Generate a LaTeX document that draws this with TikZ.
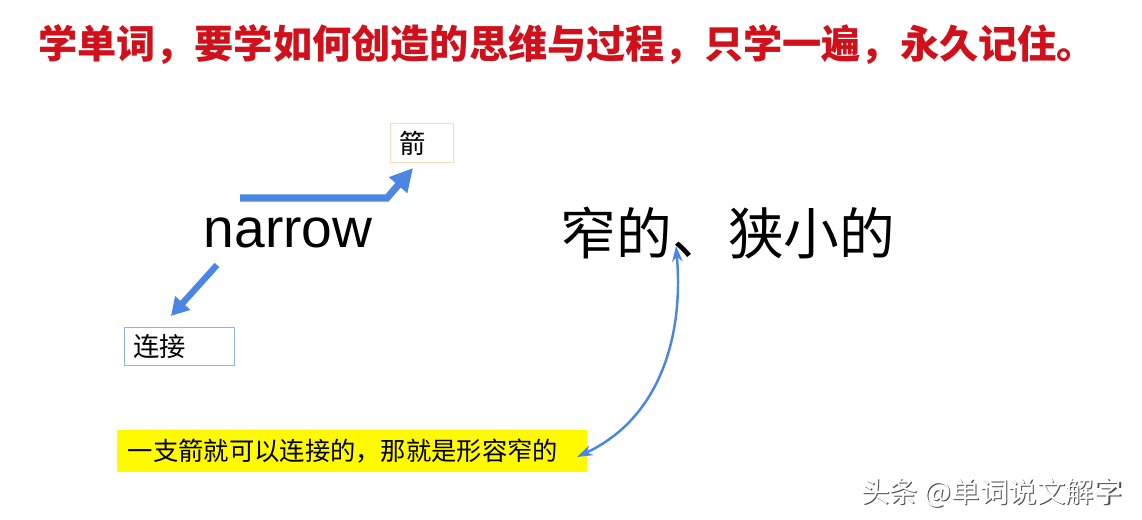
\documentclass[tikz,border=0pt]{standalone}
\usepackage{fontspec}
\setmainfont{Liberation Sans}
\newfontfamily\cjk{Noto Sans CJK SC}
\usetikzlibrary{arrows.meta}
\usetikzlibrary{positioning}
\definecolor{mblue}{RGB}{74, 134, 226}
\definecolor{mred}{RGB}{208, 16, 27}
\definecolor{mbeige}{RGB}{245, 222, 185}
\definecolor{mframe}{RGB}{141, 179, 226}
\definecolor{myellow}{RGB}{255, 250, 0}
\tikzset{barrow/.style = {draw=mblue, line width=4pt, line join=miter, -{Triangle[length=13pt, width=13pt]}}}
\tikzset{sarrow/.style = {draw=mblue, line width=3.6pt, -{Triangle[length=10pt, width=11pt]}}}
\tikzset{carrow/.style = {draw=mblue, line width=1.4pt, {Stealth[length=9pt, width=6pt]}-{Stealth[length=9pt, width=6pt]}}}
\tikzset{wordbox/.style = {draw, line width=0.6pt, minimum height=22pt, inner xsep=5pt, inner ysep=3pt, font=\cjk\fontsize{15}{15}\selectfont, anchor=west}}

\begin{document}
\begin{tikzpicture}[x=0.02cm, y=0.02cm]
      \useasboundingbox [fill=white] (0, 0) rectangle (1142, 520);

      \node (title) at (567, 475) [text=mred, font=\cjk\bfseries\fontsize{22.3}{24}\selectfont] {学单词，要学如何创造的思维与过程，只学一遍，永久记住。};

      \node (word) at (288, 287) [font=\fontsize{31.4}{34}\selectfont] {narrow};
      \node (meaning) at (728, 287) [font=\cjk\fontsize{31.7}{34}\selectfont] {窄的、狭小的};

      \node (jian) at (390, 377) [wordbox, draw=mbeige, minimum width=63*0.567pt, text width=25pt] {箭};
      \node (lianjie) at (124, 173.5) [wordbox, draw=mframe, minimum width=110*0.567pt, text width=52pt] {连接};

      \node (note) at (117, 69) [anchor=west, fill=myellow, minimum width=471*0.567pt, minimum height=21.5pt, inner sep=5pt, align=left, text width=255pt, font=\cjk\fontsize{14.4}{15}\selectfont] {一支箭就可以连接的，那就是形容窄的};

      % arrows
      \coordinate (upstart) at (240, 322);
      \coordinate (upbend) at (387, 322);
      \coordinate (uptip) at (413, 352);
      \draw [barrow] (upstart) -- (upbend) -- (uptip);

      \coordinate (downstart) at (217, 255);
      \coordinate (downtip) at (171, 204);
      \draw [sarrow] (downstart) -- (downtip);

      \coordinate (noteend) at (577, 63);
      \coordinate (meaningend) at (676, 274);
      \draw [carrow] (noteend) to [out=25, in=-85] (meaningend);

      % watermark
      \node (mark) at (993, 26) [text=black!70, font=\cjk\fontsize{16.2}{17}\selectfont] {头条 @单词说文解字};
      \node at ([shift={(-0.6pt, 0.6pt)}]mark.center) [text=white, font=\cjk\fontsize{16.2}{17}\selectfont] {头条 @单词说文解字};
    \end{tikzpicture}
\end{document}
